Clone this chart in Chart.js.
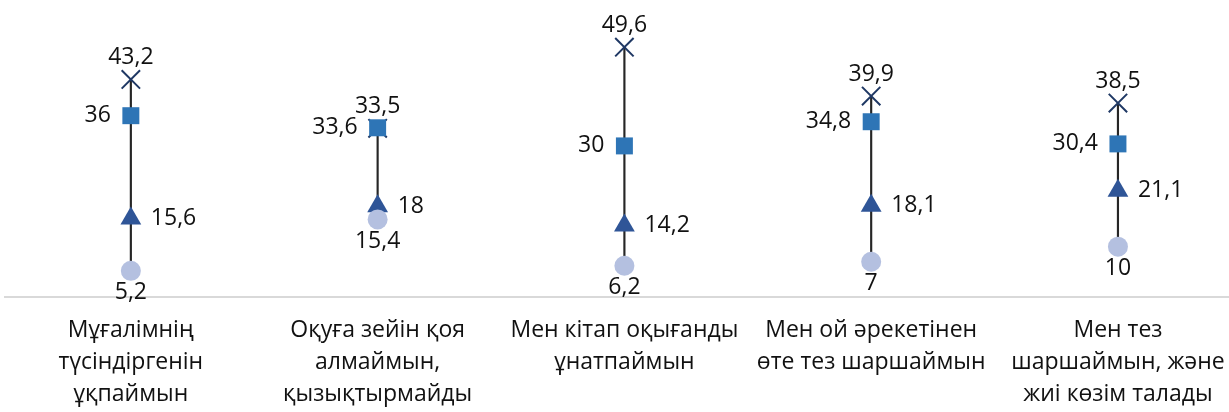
<!DOCTYPE html>
<html lang="kk">
<head>
    <meta charset="UTF-8">
    <title>Chart</title>
    <style>
        html, body { margin: 0; padding: 0; background: #fff; }
        #container { width: 1229px; height: 412px; }
    </style>
</head>
<body>
<div id="container">
    <canvas id="canvas"></canvas>
</div>

<script src="https://cdn.jsdelivr.net/npm/chart.js@4.4.0/dist/chart.umd.min.js"></script>
<script>
    const CATEGORIES = [
        ["Мұғалімнің", "түсіндіргенін", "ұқпаймын"],
        ["Оқуға зейін қоя", "алмаймын,", "қызықтырмайды"],
        ["Мен кітап оқығанды", "ұнатпаймын"],
        ["Мен ой әрекетінен", "өте тез шаршаймын"],
        ["Мен тез", "шаршаймын, және", "жиі көзім талады"]
    ];
    const SERIES_X = [43.2, 33.5, 49.6, 39.9, 38.5];
    const SERIES_SQUARE = [36, 33.6, 30, 34.8, 30.4];
    const SERIES_TRIANGLE = [15.6, 18, 14.2, 18.1, 21.1];
    const SERIES_CIRCLE = [5.2, 15.4, 6.2, 7, 10];

    const FONT = "'Open Sans', 'Noto Sans', sans-serif";

    const points = arr => arr.map((v, i) => ({x: i, y: v}));
    const ranges = CATEGORIES.map((c, i) => {
        const vals = [SERIES_X[i], SERIES_SQUARE[i], SERIES_TRIANGLE[i], SERIES_CIRCLE[i]];
        return {x: i, y: [Math.min(...vals), Math.max(...vals)]};
    });

    // value labels next to the markers
    const valueLabels = {
        id: 'valueLabels',
        afterDatasetsDraw(chart) {
            const ctx = chart.ctx;
            ctx.save();
            ctx.font = "23px " + FONT;
            ctx.fillStyle = "#111";
            ctx.textBaseline = "middle";
            chart.data.datasets.forEach((ds, di) => {
                if (!ds.labelPos) return;
                const meta = chart.getDatasetMeta(di);
                meta.data.forEach((pt, i) => {
                    const txt = String(ds.data[i].y).replace('.', ',');
                    let x = pt.x, y = pt.y;
                    if (ds.labelPos === 'top') { ctx.textAlign = 'center'; y -= 22; }
                    else if (ds.labelPos === 'bottom') { ctx.textAlign = 'center'; y += 22; }
                    else if (ds.labelPos === 'left') { ctx.textAlign = 'right'; x -= 20; }
                    else { ctx.textAlign = 'left'; x += 20; }
                    ctx.fillText(txt, x, y);
                });
            });
            ctx.restore();
        }
    };

    const config = {
        type: 'scatter',
        data: {
            datasets: [
                {
                    type: 'bar',
                    data: ranges,
                    backgroundColor: '#262626',
                    barThickness: 1.5,
                    order: 10
                },
                {
                    data: points(SERIES_X),
                    pointStyle: 'crossRot',
                    pointRadius: 13,
                    pointHoverRadius: 13,
                    borderColor: '#1f3864',
                    backgroundColor: '#1f3864',
                    pointBorderWidth: 2,
                    labelPos: 'top',
                    order: 4
                },
                {
                    data: points(SERIES_SQUARE),
                    pointStyle: 'rect',
                    pointRadius: 12,
                    pointHoverRadius: 12,
                    borderColor: '#2e75b6',
                    backgroundColor: '#2e75b6',
                    pointBorderWidth: 0,
                    labelPos: 'left',
                    order: 3
                },
                {
                    data: points(SERIES_TRIANGLE),
                    pointStyle: 'triangle',
                    pointRadius: 12,
                    pointHoverRadius: 12,
                    borderColor: '#2f5597',
                    backgroundColor: '#2f5597',
                    pointBorderWidth: 0,
                    labelPos: 'right',
                    order: 2
                },
                {
                    data: points(SERIES_CIRCLE),
                    pointStyle: 'circle',
                    pointRadius: 10,
                    pointHoverRadius: 10,
                    borderColor: '#b4c0e0',
                    backgroundColor: '#b4c0e0',
                    pointBorderWidth: 0,
                    labelPos: 'bottom',
                    order: 1
                }
            ]
        },
        options: {
            responsive: true,
            maintainAspectRatio: false,
            animation: false,
            layout: {autoPadding: false, padding: {top: 20, left: 5, right: 0, bottom: 2}},
            plugins: {
                legend: {display: false},
                tooltip: {enabled: false}
            },
            scales: {
                x: {
                    type: 'linear',
                    offset: false,
                    bounds: 'data',
                    min: -0.51,
                    max: 4.45,
                    afterBuildTicks: axis => {
                        axis.ticks = CATEGORIES.map((c, i) => ({value: i}));
                    },
                    grid: {display: true, drawOnChartArea: false, drawTicks: true, tickLength: 17, color: 'rgba(0,0,0,0)', offset: false},
                    border: {display: true, color: '#d9d9d9', width: 2},
                    ticks: {
                        autoSkip: false,
                        maxRotation: 0,
                        padding: 0,
                        color: '#111',
                        font: {family: FONT, size: 23, lineHeight: '32px'},
                        callback: v => CATEGORIES[v]
                    }
                },
                y: {
                    display: false,
                    min: 0,
                    max: 55
                }
            }
        },
        plugins: [valueLabels]
    };

    const ctx = document.getElementById('canvas').getContext('2d');
    new Chart(ctx, config);
</script>
</body>
</html>
